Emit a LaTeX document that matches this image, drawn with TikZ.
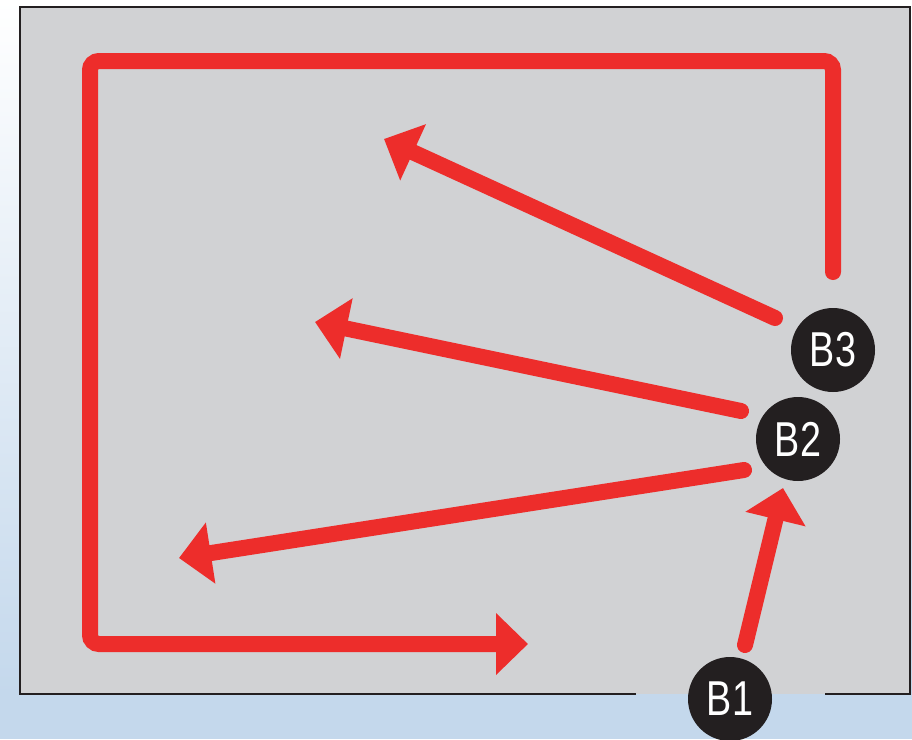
\documentclass[tikz,border=0pt]{standalone}
\usepackage{fontspec}
\usepackage{graphicx}
\setmainfont{Liberation Sans}
\usetikzlibrary{arrows.meta}
\definecolor{bgblue}{RGB}{196,216,236}
\definecolor{panelgray}{RGB}{209,210,212}
\definecolor{redline}{RGB}{237,45,43}
\definecolor{darkborder}{RGB}{35,31,32}
\tikzset{
  path/.style={draw=redline, line width=16pt, line cap=round},
  arrowpath/.style={path, -{Triangle[length=32pt,width=60pt]}},
  badge/.style={circle, fill=darkborder, text=white, minimum size=84pt, inner sep=0pt,
    font=\fontsize{49}{49}\selectfont},
}
\newcommand{\narrow}[1]{\scalebox{0.77}[1]{#1}}
\begin{document}
\begin{tikzpicture}[x=1pt,y=-1pt]
\useasboundingbox (0,0) rectangle (912,739);
% background
\shade[top color=white, bottom color=bgblue] (0,0) rectangle (912,694);
\fill[bgblue] (0,693.5) rectangle (912,739);
% panel
\fill[panelgray] (20,7) rectangle (910,694);
\draw[darkborder, line width=2.6pt] (636,694) -- (20,694) -- (20,7) -- (910,7) -- (910,694) -- (825,694);
% named points
\coordinate (loopstart) at (833,272);
\coordinate (c1) at (833,61);
\coordinate (c2) at (90,61);
\coordinate (c3) at (90,644);
\coordinate (loopend) at (528,644);
\coordinate (s1) at (775,318);
\coordinate (t1) at (384,139);
\coordinate (s2) at (741,411);
\coordinate (t2) at (315,322);
\coordinate (s3) at (744,470);
\coordinate (t3) at (179,558);
\coordinate (s4) at (745,645);
\coordinate (t4) at (783,488);
% loop
\draw[arrowpath, rounded corners=9pt] (loopstart) -- (c1) -- (c2) -- (c3) -- (loopend);
% fan arrows
\draw[arrowpath] (s1) -- (t1);
\draw[arrowpath] (s2) -- (t2);
\draw[arrowpath] (s3) -- (t3);
\draw[arrowpath] (s4) -- (t4);
% badges
\node[badge] (B3) at (833,350) {\narrow{B3}};
\node[badge] (B2) at (798,439) {\narrow{B2}};
\node[badge] (B1) at (730,699) {\narrow{B1}};
\end{tikzpicture}
\end{document}
